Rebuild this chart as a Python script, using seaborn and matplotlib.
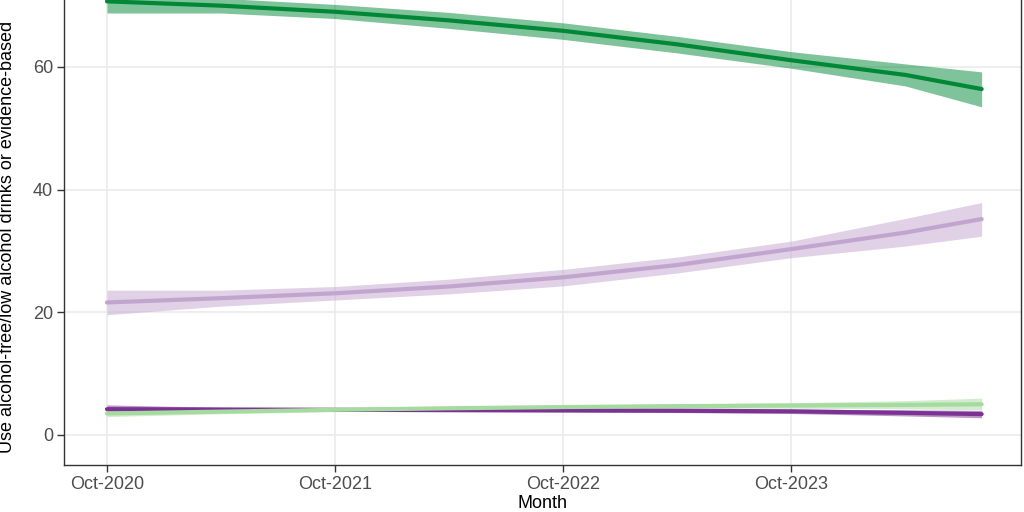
import matplotlib
matplotlib.use("Agg")
import matplotlib.pyplot as plt
import matplotlib.dates as mdates
import numpy as np
import pandas as pd
import seaborn as sns

# ---- data ----
months = ["2020-10-01", "2021-04-01", "2021-10-01", "2022-04-01", "2022-10-01",
          "2023-04-01", "2023-10-01", "2024-04-01", "2024-08-01"]

green_dark = [70.7, 70.0, 69.0, 67.6, 65.9, 63.7, 61.1, 58.7, 56.4]
green_dark_lo = [68.8, 68.8, 67.9, 66.3, 64.5, 62.3, 59.8, 56.9, 53.5]
green_dark_hi = [72.6, 71.2, 70.2, 68.9, 67.2, 65.0, 62.5, 60.5, 59.2]

purple_light = [21.6, 22.3, 23.1, 24.2, 25.7, 27.7, 30.3, 33.0, 35.2]
purple_light_lo = [19.6, 21.0, 22.0, 23.0, 24.3, 26.4, 28.9, 30.8, 32.4]
purple_light_hi = [23.6, 23.6, 24.2, 25.4, 27.0, 29.0, 31.6, 35.3, 37.9]

purple_dark = [4.2, 4.15, 4.1, 4.05, 4.0, 3.95, 3.85, 3.6, 3.4]
purple_dark_lo = [3.6, 3.8, 3.85, 3.8, 3.75, 3.65, 3.5, 3.1, 2.8]
purple_dark_hi = [4.9, 4.5, 4.35, 4.3, 4.25, 4.25, 4.2, 4.1, 4.0]

green_light = [3.5, 3.8, 4.1, 4.35, 4.55, 4.7, 4.8, 4.9, 5.0]
green_light_lo = [3.0, 3.45, 3.8, 4.05, 4.25, 4.35, 4.35, 4.25, 4.1]
green_light_hi = [4.1, 4.15, 4.4, 4.65, 4.85, 5.05, 5.25, 5.6, 6.0]

series_names = ["purple_dark", "purple_light", "green_light", "green_dark"]
colors = ["#7B3294", "#C2A5CF", "#A6DBA0", "#008837"]
x_ticks = ["2020-10-01", "2021-10-01", "2022-10-01", "2023-10-01"]
x_tick_labels = ["Oct-2020", "Oct-2021", "Oct-2022", "Oct-2023"]
y_ticks = [0, 20, 40, 60]

values = {"purple_dark": (purple_dark, purple_dark_lo, purple_dark_hi),
          "purple_light": (purple_light, purple_light_lo, purple_light_hi),
          "green_light": (green_light, green_light_lo, green_light_hi),
          "green_dark": (green_dark, green_dark_lo, green_dark_hi)}

rows = []
for name in series_names:
    v, lo, hi = values[name]
    for m, a, b, c in zip(months, v, lo, hi):
        rows.append({"month": pd.Timestamp(m), "series": name, "value": a, "lo": b, "hi": c})
df = pd.DataFrame(rows)

# ---- style ----
sns.set_theme(style="white")
plt.rcParams["font.family"] = ["Liberation Sans", "DejaVu Sans"]

fig = plt.figure(figsize=(10.24, 5.12), dpi=100)
ax = fig.add_axes([64 / 1024, 47 / 512, 957 / 1024, 465 / 512])
ax.set_facecolor("white")

palette = dict(zip(series_names, colors))
for name in series_names:
    sub = df[df["series"] == name]
    ax.fill_between(sub["month"], sub["lo"], sub["hi"], color=palette[name],
                    alpha=0.5, linewidth=0, zorder=2)
sns.lineplot(data=df, x="month", y="value", hue="series", hue_order=series_names,
             palette=palette, linewidth=3.0, legend=False, ax=ax, zorder=3)

origin = mdates.date2num(pd.Timestamp("2020-10-01"))
ax.set_xlim(origin - 68.8, origin + 1463)
ax.set_ylim(-4.9, 70.92)

ax.set_xticks([pd.Timestamp(t) for t in x_ticks])
ax.set_xticklabels(x_tick_labels)
ax.set_yticks(y_ticks)

ax.grid(True, color="#EBEBEB", linewidth=1.2, zorder=0)
ax.set_axisbelow(True)
for side in ["left", "right", "bottom"]:
    ax.spines[side].set_color("#333333")
    ax.spines[side].set_linewidth(1.0)
ax.spines["top"].set_visible(False)

ax.tick_params(axis="both", which="major", length=5, width=1.0, color="#333333",
               labelsize=13, labelcolor="#4D4D4D", direction="out", pad=3,
               bottom=True, left=True)

ax.set_xlabel("Month", fontsize=13, color="black", labelpad=1)
ax.set_ylabel("Use alcohol-free/low alcohol drinks or evidence-based",
              fontsize=13, color="black")
ax.yaxis.label.set_horizontalalignment("left")
ax.yaxis.set_label_coords((16 - 64) / 957, (465 - 453) / 465)

fig.savefig("out.png", dpi=100, facecolor="white")
